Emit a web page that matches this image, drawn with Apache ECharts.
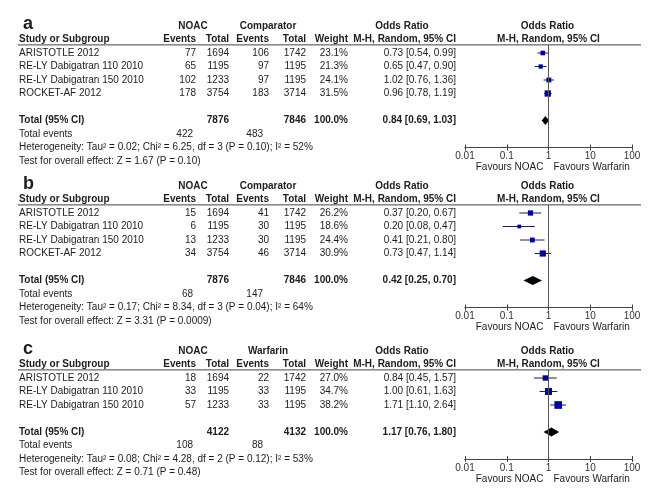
<!DOCTYPE html>
<html><head><meta charset="utf-8">
<script src="https://cdn.jsdelivr.net/npm/echarts@6/dist/echarts.min.js"></script>
<style>html,body{margin:0;padding:0;background:#fff}#chart{width:653px;height:498px}</style>
</head><body><div id="chart"></div>
<script>
// ---------- data ----------
const tickValues = [0.01, 0.1, 1, 10, 100];
const tickLabels = ['0.01', '0.1', '1', '10', '100'];

const aStudies = ['ARISTOTLE 2012', 'RE-LY Dabigatran 110 2010', 'RE-LY Dabigatran 150 2010', 'ROCKET-AF 2012'];
const aNoacEvents = [77, 65, 102, 178];
const aNoacTotal = [1694, 1195, 1233, 3754];
const aCompEvents = [106, 97, 97, 183];
const aCompTotal = [1742, 1195, 1195, 3714];
const aWeight = [23.1, 21.3, 24.1, 31.5];
const aOR = [0.73, 0.65, 1.02, 0.96];
const aLow = [0.54, 0.47, 0.76, 0.78];
const aHigh = [0.99, 0.90, 1.36, 1.19];
const aTotals = [7876, 7846];
const aPooled = [0.84, 0.69, 1.03];
const aTotalEvents = [422, 483];
const aHeterogeneity = 'Heterogeneity: Tau\u00b2 = 0.02; Chi\u00b2 = 6.25, df = 3 (P = 0.10); I\u00b2 = 52%';
const aOverall = 'Test for overall effect: Z = 1.67 (P = 0.10)';

const bStudies = ['ARISTOTLE 2012', 'RE-LY Dabigatran 110 2010', 'RE-LY Dabigatran 150 2010', 'ROCKET-AF 2012'];
const bNoacEvents = [15, 6, 13, 34];
const bNoacTotal = [1694, 1195, 1233, 3754];
const bCompEvents = [41, 30, 30, 46];
const bCompTotal = [1742, 1195, 1195, 3714];
const bWeight = [26.2, 18.6, 24.4, 30.9];
const bOR = [0.37, 0.20, 0.41, 0.73];
const bLow = [0.20, 0.08, 0.21, 0.47];
const bHigh = [0.67, 0.47, 0.80, 1.14];
const bTotals = [7876, 7846];
const bPooled = [0.42, 0.25, 0.70];
const bTotalEvents = [68, 147];
const bHeterogeneity = 'Heterogeneity: Tau\u00b2 = 0.17; Chi\u00b2 = 8.34, df = 3 (P = 0.04); I\u00b2 = 64%';
const bOverall = 'Test for overall effect: Z = 3.31 (P = 0.0009)';

const cStudies = ['ARISTOTLE 2012', 'RE-LY Dabigatran 110 2010', 'RE-LY Dabigatran 150 2010'];
const cNoacEvents = [18, 33, 57];
const cNoacTotal = [1694, 1195, 1233];
const cCompEvents = [22, 33, 33];
const cCompTotal = [1742, 1195, 1195];
const cWeight = [27.0, 34.7, 38.2];
const cOR = [0.84, 1.00, 1.71];
const cLow = [0.45, 0.61, 1.10];
const cHigh = [1.57, 1.63, 2.64];
const cTotals = [4122, 4132];
const cPooled = [1.17, 0.76, 1.80];
const cTotalEvents = [108, 88];
const cHeterogeneity = 'Heterogeneity: Tau\u00b2 = 0.08; Chi\u00b2 = 4.28, df = 2 (P = 0.12); I\u00b2 = 53%';
const cOverall = 'Test for overall effect: Z = 0.71 (P = 0.48)';

const panelLetters = ['a', 'b', 'c'];
const comparatorLabels = ['Comparator', 'Comparator', 'Warfarin'];
const favourLabels = ['Favours NOAC', 'Favours Warfarin'];

// ---------- layout ----------
const panels = [
  {studies:aStudies, ne:aNoacEvents, nt:aNoacTotal, ce:aCompEvents, ct:aCompTotal, w:aWeight, or:aOR, lo:aLow, hi:aHigh, totals:aTotals, pooled:aPooled, events:aTotalEvents, het:aHeterogeneity, overall:aOverall},
  {studies:bStudies, ne:bNoacEvents, nt:bNoacTotal, ce:bCompEvents, ct:bCompTotal, w:bWeight, or:bOR, lo:bLow, hi:bHigh, totals:bTotals, pooled:bPooled, events:bTotalEvents, het:bHeterogeneity, overall:bOverall},
  {studies:cStudies, ne:cNoacEvents, nt:cNoacTotal, ce:cCompEvents, ct:cCompTotal, w:cWeight, or:cOR, lo:cLow, hi:cHigh, totals:cTotals, pooled:cPooled, events:cTotalEvents, het:cHeterogeneity, overall:cOverall}
];
const row0Px = [53, 213, 378];
const ROW = 13.5;
const COL = {name:19, ne:196, nt:229, ce:269, ct:306, w:348, or:456};
const FONT = '"Liberation Sans", Arial, Helvetica, sans-serif';
const TXT = '#1c1c1c';
const fmt2 = v => v.toFixed(2);
const ciText = (e, l, h) => fmt2(e) + ' [' + fmt2(l) + ', ' + fmt2(h) + ']';

const grids = [], xAxes = [], yAxes = [], series = [];

panels.forEach((p, k) => {
  const n = p.studies.length;
  const axisRow = n + 3;
  grids.push({left: 465, width: 167, top: row0Px[k] - 0.6 * ROW, height: (axisRow + 0.6) * ROW});
  const base = {
    type: 'log', logBase: 10, min: 0.01, max: 100, gridIndex: k, position: 'bottom',
    splitLine: {show: false}, minorTick: {show: false},
    axisLine: {show: true, onZero: false, lineStyle: {color: '#444', width: 1}}
  };
  xAxes.push(Object.assign({}, base, {
    axisTick: {show: true, inside: false, length: 3, lineStyle: {color: '#444'}},
    axisLabel: {show: true, margin: 4, fontSize: 10, fontFamily: FONT, color: '#333',
      formatter: v => { const i = tickValues.findIndex(t => Math.abs(Math.log10(t) - Math.log10(v)) < 1e-6); return i >= 0 ? tickLabels[i] : ''; }}
  }));
  xAxes.push(Object.assign({}, base, {
    axisTick: {show: true, inside: true, length: 3, lineStyle: {color: '#444'}},
    axisLabel: {show: false}
  }));
  yAxes.push({type: 'value', gridIndex: k, inverse: true, min: -0.6, max: axisRow, show: false});
  const xi = 2 * k;

  // CI lines
  series.push({
    type: 'custom', xAxisIndex: xi, yAxisIndex: k, clip: false, z: 3,
    data: p.or.map((v, i) => [v, i, p.lo[i], p.hi[i]]),
    encode: {x: [0, 2, 3], y: 1},
    renderItem: (params, api) => {
      const a = api.coord([api.value(2), api.value(1)]);
      const b = api.coord([api.value(3), api.value(1)]);
      return {type: 'line', shape: {x1: a[0], y1: a[1], x2: b[0], y2: b[1]}, style: {stroke: '#20204a', lineWidth: 1}};
    },
    markLine: {
      silent: true, symbol: 'none', label: {show: false},
      lineStyle: {color: '#555', width: 1, type: 'solid'},
      data: [{xAxis: 1}]
    }
  });
  // squares
  series.push({
    type: 'scatter', xAxisIndex: xi, yAxisIndex: k, z: 4, symbol: 'rect',
    data: p.or.map((v, i) => [v, i, p.w[i]]),
    symbolSize: d => d[2] * 0.2,
    itemStyle: {color: '#00009a', opacity: 1}
  });
  // pooled diamond
  series.push({
    type: 'custom', xAxisIndex: xi, yAxisIndex: k, clip: false, z: 4,
    data: [[p.pooled[0], n + 1, p.pooled[1], p.pooled[2]]],
    encode: {x: [0, 2, 3], y: 1},
    renderItem: (params, api) => {
      const c = api.coord([api.value(0), api.value(1)]);
      const l = api.coord([api.value(2), api.value(1)]);
      const r = api.coord([api.value(3), api.value(1)]);
      const h = 4.5;
      return {type: 'polygon', shape: {points: [[l[0], c[1]], [c[0], c[1] - h], [r[0], c[1]], [c[0], c[1] + h]]}, style: {fill: '#000'}};
    }
  });

  // table text cells
  const cells = [];
  const T = (row, x, text, align, bold, extra) => cells.push(Object.assign({row, x, text: String(text), align, bold: !!bold}, extra || {}));
  T(-2, 23, panelLetters[k], 'left', true, {size: 18, dy: -2});
  T(-2, 193, 'NOAC', 'center', true);
  T(-2, 268, comparatorLabels[k], 'center', true);
  T(-2, 402, 'Odds Ratio', 'center', true);
  T(-2, 'one', 'Odds Ratio', 'center', true, {dx: -1});
  T(-1, COL.name, 'Study or Subgroup', 'left', true);
  T(-1, COL.ne, 'Events', 'right', true);
  T(-1, COL.nt, 'Total', 'right', true);
  T(-1, COL.ce, 'Events', 'right', true);
  T(-1, COL.ct, 'Total', 'right', true);
  T(-1, COL.w, 'Weight', 'right', true);
  T(-1, COL.or, 'M-H, Random, 95% CI', 'right', true);
  T(-1, 'one', 'M-H, Random, 95% CI', 'center', true);
  cells.push({row: -0.6, line: true});
  p.studies.forEach((s, i) => {
    T(i, COL.name, s, 'left');
    T(i, COL.ne, p.ne[i], 'right');
    T(i, COL.nt, p.nt[i], 'right');
    T(i, COL.ce, p.ce[i], 'right');
    T(i, COL.ct, p.ct[i], 'right');
    T(i, COL.w, p.w[i].toFixed(1) + '%', 'right');
    T(i, COL.or, ciText(p.or[i], p.lo[i], p.hi[i]), 'right');
  });
  T(n + 1, COL.name, 'Total (95% CI)', 'left', true);
  T(n + 1, COL.nt, p.totals[0], 'right', true);
  T(n + 1, COL.ct, p.totals[1], 'right', true);
  T(n + 1, COL.w, '100.0%', 'right', true);
  T(n + 1, COL.or, ciText(p.pooled[0], p.pooled[1], p.pooled[2]), 'right', true);
  T(n + 2, COL.name, 'Total events', 'left');
  T(n + 2, 193, p.events[0], 'right');
  T(n + 2, 263, p.events[1], 'right');
  T(n + 3, COL.name, p.het, 'left');
  T(n + 4, COL.name, p.overall, 'left');
  T(axisRow, 'one', favourLabels[0], 'right', false, {dx: -5, dy: 20});
  T(axisRow, 'one', favourLabels[1], 'left', false, {dx: 5, dy: 20});

  series.push({
    type: 'custom', xAxisIndex: xi, yAxisIndex: k, clip: false, z: 5, silent: true,
    data: cells.map(c => [1, c.row]),
    encode: {x: 0, y: 1},
    renderItem: (params, api) => {
      const c = cells[params.dataIndex];
      const pt = api.coord([1, c.row]);
      if (c.line) {
        return {type: 'line', shape: {x1: 18, y1: pt[1], x2: 641, y2: pt[1]}, style: {stroke: '#444', lineWidth: 1}};
      }
      const x = c.x === 'one' ? pt[0] + (c.dx || 0) : c.x;
      return {type: 'text', style: {
        x: x, y: pt[1] + (c.dy || 0), text: c.text, fill: TXT,
        fontSize: c.size || 10, fontWeight: c.bold ? 'bold' : 'normal', fontFamily: FONT,
        align: c.align, verticalAlign: 'middle'
      }};
    }
  });
});

const chart = echarts.init(document.getElementById('chart'), null, {renderer: 'canvas'});
chart.setOption({
  animation: false,
  backgroundColor: '#fff',
  grid: grids, xAxis: xAxes, yAxis: yAxes, series: series
});
</script></body></html>
